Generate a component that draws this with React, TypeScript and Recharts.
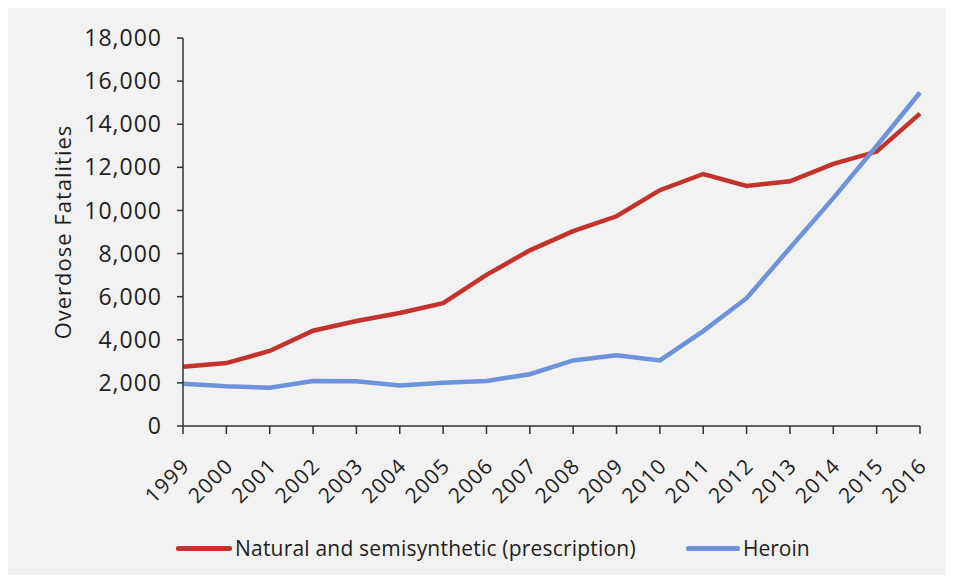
import React from 'react';
import { LineChart, Line, XAxis, YAxis, Legend } from 'recharts';

const years = ['1999', '2000', '2001', '2002', '2003', '2004', '2005', '2006', '2007', '2008', '2009', '2010', '2011', '2012', '2013', '2014', '2015', '2016'];
const prescription = [2750, 2920, 3480, 4420, 4870, 5240, 5700, 7010, 8150, 9040, 9730, 10940, 11690, 11140, 11350, 12160, 12730, 14490];
const heroin = [1960, 1840, 1780, 2090, 2080, 1880, 2010, 2090, 2400, 3040, 3280, 3040, 4400, 5930, 8260, 10570, 12990, 15470];
const yTicks = [0, 2000, 4000, 6000, 8000, 10000, 12000, 14000, 16000, 18000];

const seriesNames = ['Natural and semisynthetic (prescription)', 'Heroin'];
const RED = '#c3322b';
const BLUE = '#6c93dc';
const TEXT = '#1e1e1e';
const FONT = '"Open Sans", sans-serif';

const data = years.map((year, i) => ({
  year,
  prescription: prescription[i],
  heroin: heroin[i],
}));

const XTick = (props: any) => {
  const { x, y, payload } = props;
  return (
    <g transform={`translate(${x + 3},${y + 26})`}>
      <text transform="rotate(-45)" textAnchor="end" dy="0.35em" fill={TEXT} fontSize={21} letterSpacing={1.2} fontFamily={FONT}>
        {payload.value}
      </text>
    </g>
  );
};

const LegendContent = () => (
  <div style={{ position: 'relative', width: 946, height: 40, fontFamily: FONT, fontSize: 21, color: TEXT }}>
    <div style={{ position: 'absolute', left: 168, top: 18, width: 56, height: 5, borderRadius: 2, background: RED }} />
    <div style={{ position: 'absolute', left: 227, top: 5, lineHeight: '30px', whiteSpace: 'nowrap', letterSpacing: 0.2 }}>{seriesNames[0]}</div>
    <div style={{ position: 'absolute', left: 678, top: 18, width: 54, height: 5, borderRadius: 2, background: BLUE }} />
    <div style={{ position: 'absolute', left: 735, top: 5, lineHeight: '30px', whiteSpace: 'nowrap' }}>{seriesNames[1]}</div>
  </div>
);

export default function App() {
  return (
    <div style={{ width: 946, height: 567, background: '#f2f2f2' }}>
      <LineChart width={946} height={567} data={data} margin={{ top: 30, right: 34, bottom: 7, left: 0 }}>
        <XAxis
          dataKey="year"
          interval={0}
          height={102}
          tickSize={8}
          tickMargin={2}
          tick={<XTick />}
          stroke="#333"
          strokeWidth={1.5}
        />
        <YAxis
          width={175}
          domain={[0, 18000]}
          ticks={yTicks}
          interval={0}
          tickSize={6}
          tickMargin={15}
          tickFormatter={(v: number) => v.toLocaleString('en-US')}
          tick={{ fill: TEXT, fontSize: 23, fontFamily: FONT, letterSpacing: 1 }}
          stroke="#333"
          strokeWidth={1.5}
          label={{
            content: ({ viewBox }: any) => (
              <text
                x={54}
                y={viewBox.y + viewBox.height / 2}
                transform={`rotate(-90, 54, ${viewBox.y + viewBox.height / 2})`}
                textAnchor="middle"
                dominantBaseline="central"
                fill={TEXT}
                fontSize={22}
                letterSpacing={1}
                fontFamily={FONT}
              >
                Overdose  Fatalities
              </text>
            ),
          }}
        />
        <Legend verticalAlign="bottom" height={40} content={<LegendContent />} wrapperStyle={{ left: 0, width: 946 }} />
        <Line
          type="linear"
          dataKey="prescription"
          name={seriesNames[0]}
          stroke={RED}
          strokeWidth={4.5}
          dot={false}
          isAnimationActive={false}
        />
        <Line
          type="linear"
          dataKey="heroin"
          name={seriesNames[1]}
          stroke={BLUE}
          strokeWidth={4.5}
          dot={false}
          isAnimationActive={false}
        />
      </LineChart>
    </div>
  );
}
